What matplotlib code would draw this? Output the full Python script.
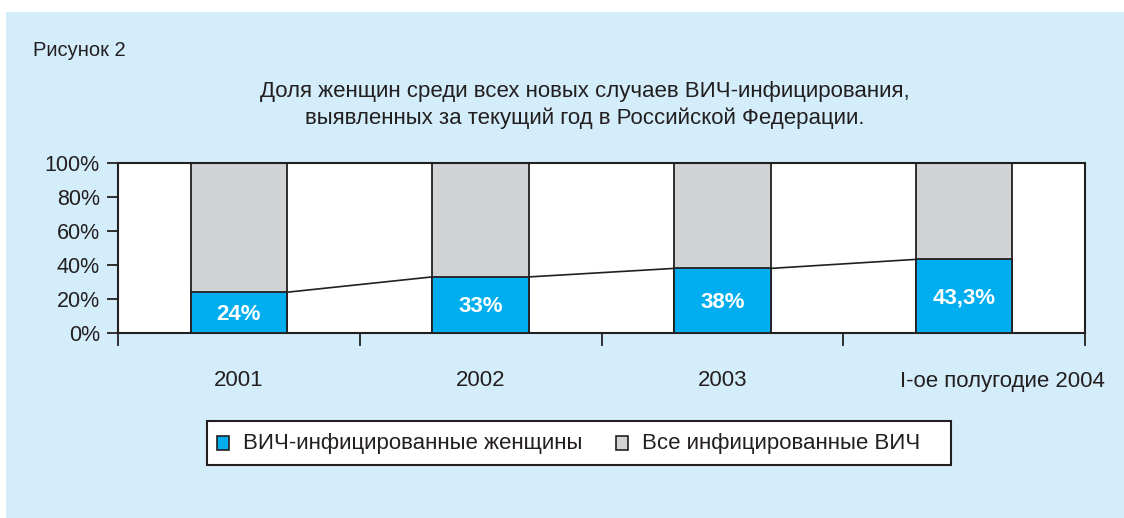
import matplotlib.pyplot as plt
from matplotlib.patches import Rectangle
import matplotlib.transforms as mtransforms
import numpy as np

categories = ["2001", "2002", "2003", "I-ое полугодие 2004"]
women_share = [24.0, 33.0, 38.0, 43.3]
total_share = [100.0, 100.0, 100.0, 100.0]
bar_labels = ["24%", "33%", "38%", "43,3%"]
y_ticks = [0, 20, 40, 60, 80, 100]
legend_labels = ["ВИЧ-инфицированные женщины", "Все инфицированные ВИЧ"]

BLUE = "#00AEEF"
GRAY = "#D1D3D4"
PANEL = "#D4EDFA"
EDGE = "#231F20"
FONT = "Liberation Sans"

W, H = 1124, 518
fig = plt.figure(figsize=(W / 100, H / 100), dpi=100)
fig.patch.set_facecolor("white")
fig.patches.append(Rectangle((6 / W, 0), 1 - 6 / W, 1 - 12 / H,
                             transform=fig.transFigure, facecolor=PANEL,
                             edgecolor="none", zorder=-10))

# plot area in pixel coords
left, right, top, bottom = 118, 1085, 163, 333
ax = fig.add_axes([left / W, 1 - bottom / H, (right - left) / W, (bottom - top) / H])
ax.set_facecolor("white")

x = np.arange(len(categories))
bw = 0.4
ax.bar(x, total_share, width=bw, color=GRAY, edgecolor=EDGE, linewidth=1.3, zorder=2)
ax.bar(x, women_share, width=bw, color=BLUE, edgecolor=EDGE, linewidth=1.3, zorder=3)

# series lines between bar tops
for i in range(len(x) - 1):
    ax.plot([x[i] + bw / 2, x[i + 1] - bw / 2], [women_share[i], women_share[i + 1]],
            color=EDGE, linewidth=1.2, zorder=1)

for xi, v, lab in zip(x, women_share, bar_labels):
    ax.text(xi, v / 2 - 1, lab, ha="center", va="center", color="white",
            fontsize=16, fontweight="bold", family=FONT, zorder=4)

ax.set_xlim(-0.5, len(categories) - 0.5)
ax.set_ylim(0, 100)
ax.set_yticks(y_ticks)
ax.set_yticklabels([f"{t}%" for t in y_ticks], fontsize=15.5, family=FONT, color=EDGE)
ax.set_xticks(np.arange(len(categories) + 1) - 0.5)
ax.set_xticklabels([])
ax.set_xticks(x, minor=True)
ax.set_xticklabels(categories, minor=True, fontsize=16, family=FONT, color=EDGE)
ax.tick_params(axis="x", which="major", length=9, width=1.3, color=EDGE, direction="out")
ax.tick_params(axis="x", which="minor", length=0, pad=27)
ax.tick_params(axis="y", length=8, width=1.3, color=EDGE, direction="out", pad=5)
for s in ax.spines.values():
    s.set_linewidth(1.5)
    s.set_color(EDGE)

# last category label sits further to the right
last = ax.xaxis.get_minorticklabels()[-1]
last.set_transform(last.get_transform() + mtransforms.ScaledTranslation(0.38, 0, fig.dpi_scale_trans))

fig.text(33 / W, 1 - 50 / H, "Рисунок 2", fontsize=14.5, family=FONT, color=EDGE,
         ha="left", va="center")
fig.text(585 / W, 1 - 105 / H,
         "Доля женщин среди всех новых случаев ВИЧ-инфицирования,\n"
         "выявленных за текущий год в Российской Федерации.",
         fontsize=16, family=FONT, color=EDGE, ha="center", va="center",
         linespacing=1.3)

# legend box
lx0, lx1, ly0, ly1 = 207, 951, 421, 465
fig.patches.append(Rectangle((lx0 / W, 1 - ly1 / H), (lx1 - lx0) / W, (ly1 - ly0) / H,
                             transform=fig.transFigure, facecolor="white",
                             edgecolor=EDGE, linewidth=1.5, zorder=1))
for px, col, lab in [(217, BLUE, legend_labels[0]), (616, GRAY, legend_labels[1])]:
    fig.patches.append(Rectangle((px / W, 1 - 450 / H), 12 / W, 14 / H,
                                 transform=fig.transFigure, facecolor=col,
                                 edgecolor=EDGE, linewidth=1.2, zorder=2))
    fig.text((px + 26) / W, 1 - 443 / H, lab, fontsize=16, family=FONT,
             color=EDGE, ha="left", va="center", zorder=3)

fig.savefig("out.png", dpi=100)
